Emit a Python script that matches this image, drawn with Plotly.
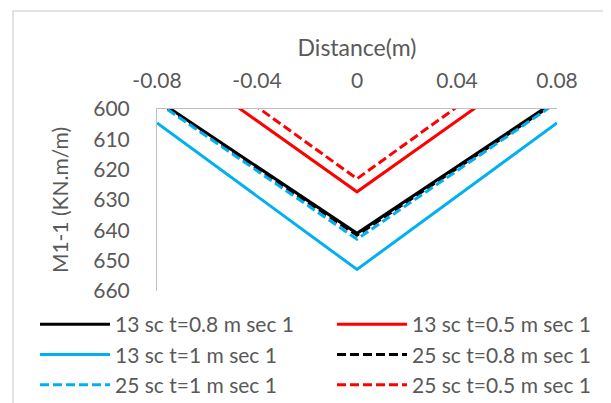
import plotly.graph_objects as go

distance = [-0.08, 0.0, 0.08]
s13_t08 = [597.0, 641.0, 597.0]
s13_t05 = [580.5, 627.3, 580.5]
s13_t1 = [604.6, 652.9, 604.6]
s25_t08 = [597.5, 641.6, 597.5]
s25_t1 = [597.8, 642.9, 597.8]
s25_t05 = [575.6, 623.0, 575.6]

DASH = "9px,4px"
series = [
    ("13 sc t=0.8 m sec 1", s13_t08, "#000000", "solid", "legend"),
    ("13 sc t=1 m sec 1", s13_t1, "#00b0f0", "solid", "legend"),
    ("25 sc t=1 m sec 1", s25_t1, "#00b0f0", DASH, "legend"),
    ("13 sc t=0.5 m sec 1", s13_t05, "#ff0000", "solid", "legend2"),
    ("25 sc t=0.8 m sec 1", s25_t08, "#000000", DASH, "legend2"),
    ("25 sc t=0.5 m sec 1", s25_t05, "#ff0000", DASH, "legend2"),
]
draw_order = [0, 3, 1, 4, 2, 5]

fig = go.Figure()
for i in draw_order:
    name, vals, color, dash, leg = series[i]
    fig.add_trace(go.Scatter(
        x=distance, y=vals, name=name, mode="lines", legend=leg,
        legendrank=i,
        line=dict(color=color, width=3, dash=dash),
    ))

FONT = "Lato"
GRAY = "#595959"
# page body has an 8px margin, so the figure is 8px smaller and all
# positions are given in figure pixels (reference pixels - 8)
OFF = 8
FW, FH = 611 - OFF, 403 - OFF
L, R, T, B = 157 - OFF, 557 - OFF, 109 - OFF, 291 - OFF
W, H = R - L, B - T


def px_x(p):
    return (p - OFF - L) / W


def px_y(p):
    return (B - (p - OFF)) / H


legend_common = dict(
    orientation="v", xanchor="left", yanchor="top",
    font=dict(family=FONT, size=21, color=GRAY),
    bgcolor="rgba(0,0,0,0)", itemwidth=70, tracegroupgap=0,
)

fig.update_layout(
    width=FW, height=FH,
    margin=dict(l=L, r=FW - R, t=T, b=FH - B, autoexpand=False),
    paper_bgcolor="white", plot_bgcolor="white",
    font=dict(family=FONT, size=21, color=GRAY),
    showlegend=True,
    legend=dict(x=px_x(35), y=px_y(304), **legend_common),
    legend2=dict(x=px_x(332), y=px_y(304), **legend_common),
    xaxis=dict(
        side="top", range=[-0.08, 0.08], tickvals=[-0.08, -0.04, 0, 0.04, 0.08],
        ticktext=["-0.08", "-0.04", "0", "0.04", "0.08"],
        showgrid=False, zeroline=False, showline=True, linecolor="#bfbfbf", linewidth=1,
        ticks="", ticklabelstandoff=12,
        title=dict(text="Distance(m)", font=dict(family=FONT, size=23, color=GRAY), standoff=3),
        tickfont=dict(family=FONT, size=21, color=GRAY),
    ),
    yaxis=dict(
        range=[660, 600], tickvals=[600, 610, 620, 630, 640, 650, 660],
        showgrid=False, zeroline=False, showline=True, linecolor="#bfbfbf", linewidth=1,
        ticks="", ticklabelstandoff=22,
        title=dict(text="M1-1 (KN.m/m)", font=dict(family=FONT, size=21, color=GRAY), standoff=18),
        tickfont=dict(family=FONT, size=21, color=GRAY),
    ),
)

fig.add_shape(type="rect", xref="paper", yref="paper",
              x0=px_x(13), x1=px_x(608.5),
              y0=px_y(430), y1=px_y(11),
              line=dict(color="#d9d9d9", width=1.5), layer="below")

fig.write_html("out.html")
